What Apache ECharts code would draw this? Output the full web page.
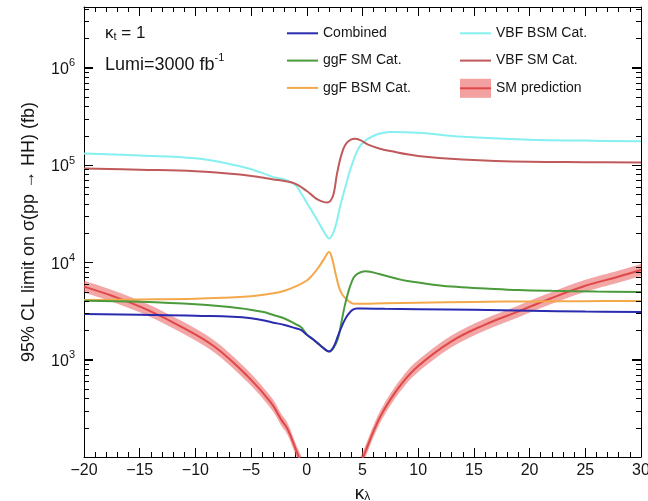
<!DOCTYPE html>
<html><head><meta charset="utf-8">
<script src="https://cdn.jsdelivr.net/npm/echarts@6/dist/echarts.min.js"></script>
<style>html,body{margin:0;padding:0;background:#fff}#c{width:648px;height:501px}</style>
</head><body><div id="c"></div>
<script>
// ---------- tick definitions ----------
const xTickInterval = 5;
const yMajorTicks = [1e3, 1e4, 1e5, 1e6];
const yMinorTicks = [200,300,400,500,600,700,800,900,
  2000,3000,4000,5000,6000,7000,8000,9000,
  20000,30000,40000,50000,60000,70000,80000,90000,
  200000,300000,400000,500000,600000,700000,800000,900000,
  2000000,3000000,4000000];

// ---------- Combined ----------
const kCombined = [-20,-15,-10,-5,-3,-2,-1,-0.5,0,0.5,1,1.5,2,2.4,2.8,3.1,3.4,3.7,4.1,4.5,5,7,10,15,20,25,30];
const combined  = [2950,2900,2830,2670,2400,2270,2100,2010,1800,1640,1470,1310,1214,1350,1760,2150,2550,2900,3250,3360,3360,3330,3300,3250,3180,3120,3080];

// ---------- ggF SM Cat. ----------
const kGgfSM = [-20,-15,-10,-6,-4,-3,-2,-1,-0.5,0,0.5,1,1.5,2,2.4,2.8,3.1,3.4,3.7,4,4.4,5.3,6.5,8.5,10,13,16,19,22,26,30];
const ggfSM  = [4040,3930,3700,3380,3100,2880,2650,2320,2150,1820,1630,1470,1320,1214,1320,1650,2400,3550,4850,6150,7400,8100,7600,6600,6200,5630,5400,5200,5100,5020,4960];

// ---------- ggF BSM Cat. ----------
const kGgfBSM = [-20,-15,-10,-7,-5,-3,-2,-1,0,0.5,1,1.5,2,2.3,2.6,2.9,3.2,3.6,4.2,5,7,10,15,20,25,30];
const ggfBSM  = [4110,4150,4220,4350,4480,4800,5100,5650,6500,7400,8700,10600,12800,10600,7500,5500,4650,4150,3760,3750,3800,3850,3920,3970,3990,4010];

// ---------- VBF BSM Cat. ----------
const kVbfBSM = [-20,-15,-10,-6,-4,-3,-2,-1,-0.5,0,0.5,1,1.5,2,2.5,3,3.5,4,4.5,5,6,7.5,10,14,20,25,30];
const vbfBSM  = [131000,125000,117000,97000,83000,75000,71000,62000,51000,41000,33000,26500,21000,17600,22000,38000,62000,97000,137000,168000,200000,218000,214000,195000,182000,178000,175000];

// ---------- VBF SM Cat. ----------
const kVbfSM = [-20,-15,-10,-6,-4,-3,-2,-1,0,0.5,1,1.5,1.8,2.1,2.4,2.7,3,3.3,3.6,4,4.3,4.8,5.5,6.5,7.5,10,14,20,25,30];
const vbfSM  = [92000,89500,86500,80000,74500,71000,68500,64000,54000,48500,44000,41800,41200,42500,50000,80000,115000,148000,170000,183000,186000,180000,162000,148000,139000,124000,114000,108000,107000,106000];

// ---------- SM prediction (two branches) ----------
const kSMLeft      = [-20,-17.3,-14.3,-11.3,-8.3,-5.3,-3.2,-2.3,-1.7,-0.8,0];
const smCentLeft   = [5630,4450,3250,2190,1365,673,359,242,191,106,68];
const smLowLeft    = [4900,3870,2830,1905,1188,585,312,211,166,92,59];
const smHighLeft   = [6470,5120,3740,2520,1570,774,413,278,220,122,78];
const kSMRight     = [4.4,5.15,6.05,6.95,8.45,9.95,12.95,15.95,18.95,21.94,24.94,27.94,30];
const smCentRight  = [70,106,191,307,553,851,1535,2280,3120,4280,5710,7110,8340];
const smLowRight   = [61,92,166,267,481,740,1335,1984,2714,3724,4968,6186,7256];
const smHighRight  = [80,122,220,353,636,979,1765,2622,3588,4922,6567,8177,9591];

const FONT = "'Liberation Sans', Arial, Helvetica, sans-serif";
const TXT = '#151515';
const pairs = (ks, vs) => ks.map((k, i) => [k, vs[i]]);

const colors = {
  combined: '#2b2bb0', ggfSM: '#4b9b3c', ggfBSM: '#f4a84c',
  vbfBSM: '#86f0f0', vbfSM: '#c05a5a', smLine: '#e04848', smBand: 'rgba(232,92,92,0.55)'
};

function lineSeries(name, ks, vs, color, z) {
  return { name, type: 'line', data: pairs(ks, vs), symbol: 'none', showSymbol: false,
    smooth: 0.4, lineStyle: { color, width: 2 }, itemStyle: { color }, z: z || 3 };
}
// Catmull-Rom smoothing through pixel points (path segments only)
function crSegments(p) {
  let d = '';
  const n = p.length;
  for (let i = 0; i < n - 1; i++) {
    const p0 = p[Math.max(i - 1, 0)], p1 = p[i], p2 = p[i + 1], p3 = p[Math.min(i + 2, n - 1)];
    const c1 = [p1[0] + (p2[0] - p0[0]) / 6, p1[1] + (p2[1] - p0[1]) / 6];
    const c2 = [p2[0] - (p3[0] - p1[0]) / 6, p2[1] - (p3[1] - p1[1]) / 6];
    d += ' C' + c1[0] + ' ' + c1[1] + ' ' + c2[0] + ' ' + c2[1] + ' ' + p2[0] + ' ' + p2[1];
  }
  return d;
}
function bandSeries(ks, lo, hi) {
  return { name: 'SM prediction', type: 'custom', coordinateSystem: 'cartesian2d', clip: true, z: 1,
    itemStyle: { color: colors.smBand },
    data: [[ks[0], hi[0]]],
    renderItem: function (params, api) {
      const up = ks.map((k, i) => api.coord([k, hi[i]]));
      const dn = ks.map((k, i) => api.coord([k, lo[i]])).reverse();
      const d = 'M' + up[0][0] + ' ' + up[0][1] + crSegments(up) +
                ' L' + dn[0][0] + ' ' + dn[0][1] + crSegments(dn) + ' Z';
      return { type: 'path', shape: { pathData: d }, style: { fill: colors.smBand, stroke: null } };
    } };
}
// log-scale ticks on both vertical frame edges, placed through the x and y scales
function tickPath(api, v, len) {
  const left = api.coord([-20, v]);
  const right = api.coord([30, v]);
  const y = Math.round(left[1]) + 0.5;
  return ' M' + left[0] + ' ' + y + ' L' + (left[0] + len) + ' ' + y +
         ' M' + (right[0] - len) + ' ' + y + ' L' + right[0] + ' ' + y;
}
const yTickSeries = {
  name: 'SM prediction', type: 'custom', coordinateSystem: 'cartesian2d', clip: true, z: 6,
  itemStyle: { color: colors.smBand },
  data: [[0, 1000]],
  renderItem: function (params, api) {
    let d = '';
    yMajorTicks.forEach(v => { d += tickPath(api, v, 9); });
    yMinorTicks.forEach(v => { d += tickPath(api, v, 5); });
    return { type: 'path', shape: { pathData: d }, style: { fill: null, stroke: '#000', lineWidth: 1 } };
  }
};

const tickLine = { color: '#000', width: 1 };
const xBase = { type: 'value', min: -20, max: 30, interval: xTickInterval, splitLine: { show: false },
  axisLine: { show: true, onZero: false, lineStyle: tickLine },
  axisTick: { show: true, inside: true, length: 9, lineStyle: tickLine },
  minorTick: { show: true, splitNumber: 5, length: 5, lineStyle: tickLine } };
const yBase = { type: 'log', logBase: 10, min: 100, max: 4.2e6, splitLine: { show: false },
  axisLine: { show: true, onZero: false, lineStyle: tickLine },
  axisTick: { show: true, inside: true, length: 9, lineStyle: tickLine } };

const legendText = { fontSize: 14, fontFamily: FONT, color: TXT };
const option = {
  animation: false,
  backgroundColor: '#fff',
  grid: { left: 84, right: 7, top: 7, bottom: 44, outerBoundsMode: 'none' },
  title: [
    { text: '{k|κ}{s|t}{k| = 1}', left: 105, top: 20, padding: 0,
      textStyle: { fontWeight: 'normal', rich: {
        k: { fontSize: 17, fontFamily: FONT, fontWeight: 'normal', color: TXT, lineHeight: 22, verticalAlign: 'bottom' },
        s: { fontSize: 11, fontFamily: FONT, fontWeight: 'normal', color: TXT, lineHeight: 11, verticalAlign: 'bottom' } } } },
    { text: '{k|Lumi=3000 fb}{p|-1}', left: 105, top: 52, padding: 0,
      textStyle: { fontWeight: 'normal', rich: {
        k: { fontSize: 18, fontFamily: FONT, fontWeight: 'normal', color: TXT, lineHeight: 22, verticalAlign: 'bottom' },
        p: { fontSize: 11, fontFamily: FONT, fontWeight: 'normal', color: TXT, lineHeight: 11, verticalAlign: 'top' } } } }
  ],
  legend: [
    { left: 287, top: 26.3, orient: 'vertical', padding: 0, itemWidth: 31, itemHeight: 2, itemGap: 13.3,
      icon: 'rect', selectedMode: false, textStyle: legendText,
      data: ['Combined', 'ggF SM Cat.', 'ggF BSM Cat.'] },
    { left: 460, top: 26.3, orient: 'vertical', padding: 0, itemWidth: 31, itemHeight: 2, itemGap: 13.3,
      icon: 'rect', selectedMode: false, textStyle: legendText,
      data: ['VBF BSM Cat.', 'VBF SM Cat.'] },
    { left: 460, top: 78.8, orient: 'vertical', padding: 0, itemWidth: 31, itemHeight: 19,
      selectedMode: false, textStyle: legendText,
      data: [{ name: 'SM prediction', icon: 'rect', itemStyle: { color: 'rgba(236,120,120,0.7)' } }] },
    { left: 460, top: 81.3, orient: 'vertical', padding: 0, itemWidth: 31, itemHeight: 2,
      icon: 'rect', selectedMode: false,
      textStyle: { fontSize: 14, fontFamily: FONT, color: 'rgba(0,0,0,0)' },
      data: ['SM central'] }
  ],
  xAxis: [
    Object.assign({}, xBase, { position: 'bottom',
      name: '{k|κ}{s|λ}', nameLocation: 'middle', nameGap: 20,
      nameTextStyle: { rich: {
        k: { fontSize: 19, fontFamily: FONT, color: TXT, lineHeight: 22, verticalAlign: 'bottom' },
        s: { fontSize: 12, fontFamily: FONT, color: TXT, lineHeight: 10, verticalAlign: 'bottom' } } },
      axisLabel: { show: true, margin: 6, fontSize: 16, fontFamily: FONT, color: TXT,
        formatter: v => (v < 0 ? '\u2212' + (-v) : String(v)) } }),
    Object.assign({}, xBase, { position: 'top', axisLabel: { show: false } })
  ],
  yAxis: [
    Object.assign({}, yBase, { position: 'left',
      name: '95% CL limit on σ(pp → HH) (fb)', nameLocation: 'middle', nameGap: 46, nameRotate: 90,
      nameTextStyle: { fontSize: 18, fontFamily: FONT, color: TXT },
      axisLabel: { show: true, margin: 9,
        formatter: v => {
          const e = Math.round(Math.log10(v));
          return (e < 3 || Math.abs(Math.log10(v) - e) > 1e-6) ? '' : '{b|10}{e|' + e + '}';
        },
        rich: { b: { fontSize: 16, fontFamily: FONT, color: TXT, lineHeight: 20, verticalAlign: 'bottom' },
                e: { fontSize: 11, fontFamily: FONT, color: TXT, lineHeight: 11, verticalAlign: 'top' } } } }),
    Object.assign({}, yBase, { position: 'right', axisLabel: { show: false } })
  ],
  series: [
    bandSeries(kSMLeft, smLowLeft, smHighLeft),
    bandSeries(kSMRight, smLowRight, smHighRight),
    lineSeries('VBF BSM Cat.', kVbfBSM, vbfBSM, colors.vbfBSM),
    lineSeries('VBF SM Cat.', kVbfSM, vbfSM, colors.vbfSM),
    lineSeries('ggF BSM Cat.', kGgfBSM, ggfBSM, colors.ggfBSM),
    lineSeries('ggF SM Cat.', kGgfSM, ggfSM, colors.ggfSM),
    lineSeries('Combined', kCombined, combined, colors.combined),
    lineSeries('SM central', kSMLeft, smCentLeft, colors.smLine, 2),
    lineSeries('SM central', kSMRight, smCentRight, colors.smLine, 2),
    yTickSeries
  ]
};
const chart = echarts.init(document.getElementById('c'), null, { renderer: 'canvas' });
chart.setOption(option);
</script>
</body></html>
